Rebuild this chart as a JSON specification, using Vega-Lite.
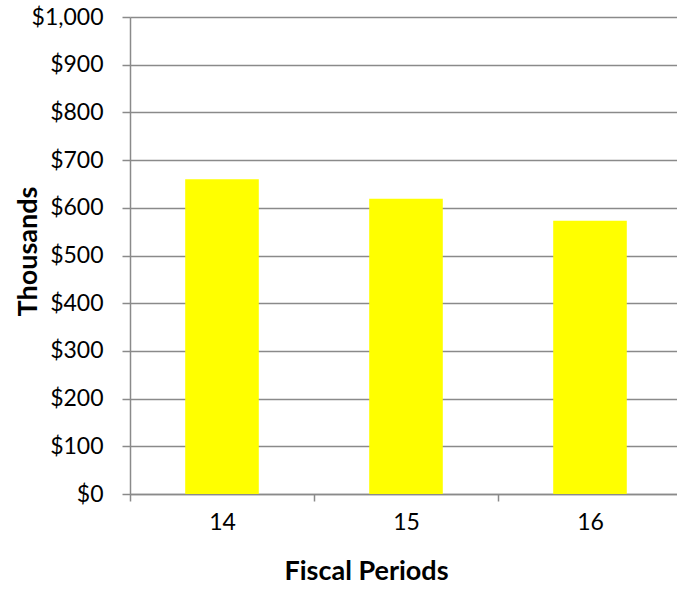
{
  "$schema": "https://vega.github.io/schema/vega-lite/v6.json",
  "autosize": "none",
  "width": 547,
  "height": 477,
  "padding": {"left": 130, "top": 17, "right": 0, "bottom": 97},
  "background": "white",
  "config": {
    "view": {"stroke": null},
    "font": "Lato",
    "axis": {"labelFont": "Lato", "titleFont": "Lato"}
  },
  "data": {
    "values": [
      {"period": "14", "value": 660},
      {"period": "15", "value": 619},
      {"period": "16", "value": 573}
    ]
  },
  "mark": {"type": "bar", "color": "#FFFF00", "width": {"band": 0.4}},
  "encoding": {
    "x": {
      "field": "period",
      "type": "ordinal",
      "scale": {"paddingInner": 0, "paddingOuter": 0, "range": [0, 552]},
      "axis": {
        "title": "Fiscal Periods",
        "labelAngle": 0,
        "labelFontSize": 23,
        "labelColor": "#000000",
        "labelPadding": 10,
        "titleFontSize": 27,
        "titleFontWeight": "bold",
        "titleColor": "#000000",
        "titleX": 236,
        "titleY": 77,
        "titleBaseline": "middle",
        "titleAnchor": "middle",
        "domainColor": "#8a8a8a",
        "domainWidth": 1.5,
        "tickColor": "#8a8a8a",
        "tickWidth": 1.5,
        "tickSize": 7,
        "tickBand": "extent",
        "grid": false
      }
    },
    "y": {
      "field": "value",
      "type": "quantitative",
      "scale": {"domain": [0, 1000], "nice": false},
      "axis": {
        "title": "Thousands",
        "values": [0, 100, 200, 300, 400, 500, 600, 700, 800, 900, 1000],
        "labelExpr": "'$' + format(datum.value, ',')",
        "labelFontSize": 23,
        "labelColor": "#000000",
        "labelPadding": 19,
        "titleFontSize": 27,
        "titleFontWeight": "bold",
        "titleColor": "#000000",
        "titleX": -102,
        "titleY": 234,
        "titleBaseline": "middle",
        "titleAngle": -90,
        "domainColor": "#8a8a8a",
        "domainWidth": 1.5,
        "tickColor": "#8a8a8a",
        "tickWidth": 1.5,
        "tickSize": 8,
        "grid": true,
        "gridColor": "#8a8a8a",
        "gridWidth": 1.5
      }
    }
  }
}
